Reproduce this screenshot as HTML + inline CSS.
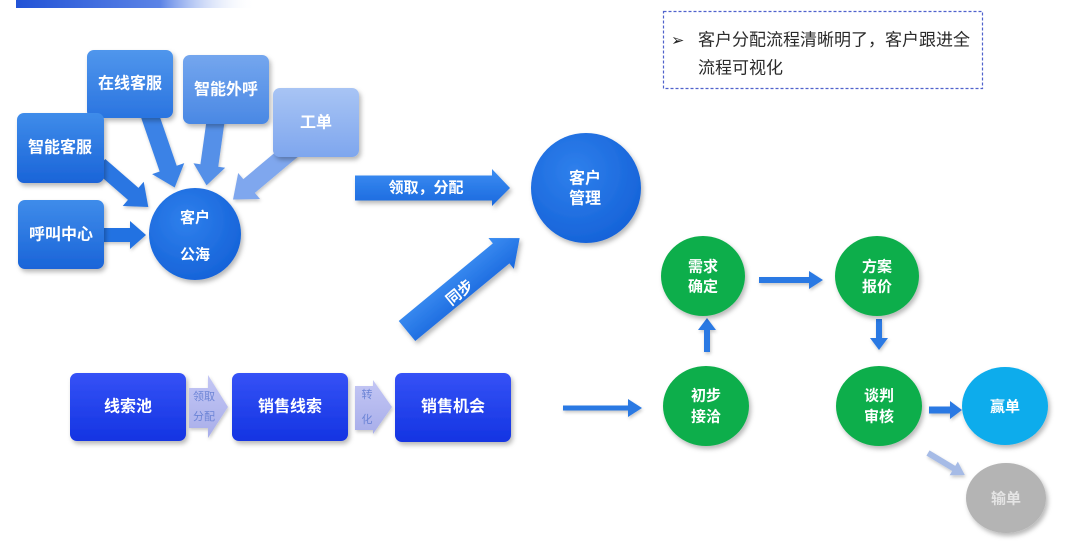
<!DOCTYPE html>
<html>
<head>
<meta charset="utf-8">
<style>
html,body{margin:0;padding:0;background:#fff;}
body{width:1080px;height:544px;overflow:hidden;position:relative;font-family:"Liberation Sans","Noto Sans CJK SC",sans-serif;}
svg{position:absolute;left:0;top:0;}
.t{font-family:"Liberation Sans","Noto Sans CJK SC",sans-serif;font-weight:bold;fill:#fff;text-anchor:middle;dominant-baseline:central;}
</style>
</head>
<body>
<svg width="1080" height="544" viewBox="0 0 1080 544" xmlns="http://www.w3.org/2000/svg">
<defs>
  <linearGradient id="bar" x1="0" y1="0" x2="1" y2="0">
    <stop offset="0" stop-color="#2253d6"/>
    <stop offset="0.6" stop-color="#5b83e6"/>
    <stop offset="1" stop-color="#ffffff" stop-opacity="0"/>
  </linearGradient>
  <linearGradient id="gDark" x1="0" y1="0" x2="0" y2="1">
    <stop offset="0" stop-color="#3f8cea"/>
    <stop offset="1" stop-color="#1a64d8"/>
  </linearGradient>
  <linearGradient id="gMid" x1="0" y1="0" x2="0" y2="1">
    <stop offset="0" stop-color="#5096ec"/>
    <stop offset="1" stop-color="#2a74e0"/>
  </linearGradient>
  <linearGradient id="gLight" x1="0" y1="0" x2="0" y2="1">
    <stop offset="0" stop-color="#74a6ee"/>
    <stop offset="1" stop-color="#4a88e4"/>
  </linearGradient>
  <linearGradient id="gPale" x1="0" y1="0" x2="0" y2="1">
    <stop offset="0" stop-color="#a8c4f4"/>
    <stop offset="1" stop-color="#7ea6ee"/>
  </linearGradient>
  <linearGradient id="gBox" x1="0" y1="0" x2="0" y2="1">
    <stop offset="0" stop-color="#3552f6"/>
    <stop offset="1" stop-color="#1434e2"/>
  </linearGradient>
  <linearGradient id="gArr" x1="0" y1="0" x2="0" y2="1">
    <stop offset="0" stop-color="#3c8ef2"/>
    <stop offset="1" stop-color="#1a68de"/>
  </linearGradient>
  <linearGradient id="gLav" x1="0" y1="0" x2="0" y2="1">
    <stop offset="0" stop-color="#c3c6f4"/>
    <stop offset="1" stop-color="#a8aeea"/>
  </linearGradient>
  <radialGradient id="gCirc" cx="0.4" cy="0.35" r="0.7">
    <stop offset="0" stop-color="#2f80ec"/>
    <stop offset="1" stop-color="#1562d8"/>
  </radialGradient>
  <filter id="sh" x="-20%" y="-20%" width="150%" height="150%">
    <feDropShadow dx="2" dy="3" stdDeviation="2.5" flood-color="#000" flood-opacity="0.28"/>
  </filter>
  <filter id="shs" x="-20%" y="-20%" width="150%" height="150%">
    <feDropShadow dx="1" dy="2" stdDeviation="1.5" flood-color="#000" flood-opacity="0.22"/>
  </filter>
</defs>

<!-- top bar -->
<rect x="16" y="0" width="240" height="8" fill="url(#bar)"/>

<!-- dashed note box -->
<rect x="663.5" y="11.5" width="319" height="77" fill="#fff" stroke="#4f62cc" stroke-width="1.2" stroke-dasharray="3,2"/>
<text x="671" y="40" font-size="16" fill="#222" dominant-baseline="central" font-family="'DejaVu Sans',sans-serif">➢</text>
<text x="698" y="40" font-size="17" fill="#2a2a2a" dominant-baseline="central" font-family="'Liberation Sans','Noto Sans CJK SC',sans-serif">客户分配流程清晰明了，客户跟进全</text>
<text x="698" y="68" font-size="17" fill="#2a2a2a" dominant-baseline="central" font-family="'Liberation Sans','Noto Sans CJK SC',sans-serif">流程可视化</text>

<!-- arrows into 客户公海 (drawn under boxes) -->
<g filter="url(#shs)">
  <g transform="translate(102,235)">
    <polygon points="0,-7 28,-7 28,-14 44,0 28,14 28,7 0,7" fill="#2272e2"/>
  </g>
  <g transform="translate(100,165) rotate(41)">
    <polygon points="0,-8 44,-8 44,-16 64,0 44,16 44,8 0,8" fill="#2a76e2"/>
  </g>
  <g transform="translate(148,110) rotate(71)">
    <polygon points="0,-9 62,-9 62,-17 82,0 62,17 62,9 0,9" fill="#3a82e6"/>
  </g>
  <g transform="translate(216,118) rotate(98)">
    <polygon points="0,-9 48,-9 48,-16 68,0 48,16 48,9 0,9" fill="#5590e8"/>
  </g>
  <g transform="translate(292,150) rotate(140)">
    <polygon points="0,-9 56,-9 56,-17 77,0 56,17 56,9 0,9" fill="#7fa7ee"/>
  </g>
</g>

<!-- top-left boxes -->
<g filter="url(#sh)">
  <rect x="87" y="50" width="86" height="68" rx="7" fill="url(#gMid)"/>
  <rect x="183" y="55" width="86" height="69" rx="7" fill="url(#gLight)"/>
  <rect x="273" y="88" width="86" height="69" rx="7" fill="url(#gPale)"/>
  <rect x="17" y="113" width="87" height="70" rx="7" fill="url(#gDark)"/>
  <rect x="18" y="200" width="86" height="69" rx="7" fill="url(#gDark)"/>
  <circle cx="195" cy="234" r="46" fill="url(#gCirc)"/>
</g>
<text class="t" x="130" y="84" font-size="16">在线客服</text>
<text class="t" x="226" y="90" font-size="16">智能外呼</text>
<text class="t" x="316" y="123" font-size="16">工单</text>
<text class="t" x="60" y="148" font-size="16">智能客服</text>
<text class="t" x="61" y="235" font-size="16">呼叫中心</text>
<text class="t" x="195" y="218" font-size="15">客户</text>
<text class="t" x="195" y="255" font-size="15">公海</text>

<!-- 领取，分配 arrow -->
<g filter="url(#sh)">
  <polygon points="355,175.5 492,175.5 492,169 510,188 492,206 492,200.5 355,200.5" fill="url(#gArr)"/>
</g>
<text class="t" x="426" y="188" font-size="15">领取，分配</text>

<!-- 同步 arrow -->
<g filter="url(#sh)">
  <g transform="translate(407,331) rotate(-39.5)">
    <polygon points="0,-13 122,-13 122,-20 146,0 122,20 122,13 0,13" fill="url(#gArr)"/>
  </g>
</g>
<text class="t" x="460" y="293" font-size="15" transform="rotate(-39.5 460 293)">同步</text>

<!-- 客户管理 -->
<g filter="url(#sh)">
  <circle cx="586" cy="188" r="55" fill="url(#gCirc)"/>
</g>
<text class="t" x="585" y="179" font-size="16">客户</text>
<text class="t" x="585" y="199" font-size="16">管理</text>

<!-- bottom row -->
<g filter="url(#sh)">
  <rect x="70" y="373" width="116" height="68" rx="7" fill="url(#gBox)"/>
  <rect x="232" y="373" width="116" height="68" rx="7" fill="url(#gBox)"/>
  <rect x="395" y="373" width="116" height="69" rx="7" fill="url(#gBox)"/>
</g>
<g filter="url(#shs)">
  <polygon points="189,388 208,388 208,375 228,407 208,438 208,428 189,428" fill="url(#gLav)"/>
  <polygon points="355,386 373,386 373,380 392,407 373,434 373,430 355,430" fill="url(#gLav)"/>
</g>
<text x="204" y="397" font-size="11" fill="#6c84d6" text-anchor="middle" dominant-baseline="central" font-family="'Liberation Sans','Noto Sans CJK SC',sans-serif">领取</text>
<text x="204" y="417" font-size="11" fill="#6c84d6" text-anchor="middle" dominant-baseline="central" font-family="'Liberation Sans','Noto Sans CJK SC',sans-serif">分配</text>
<text x="367" y="395" font-size="11" fill="#6c84d6" text-anchor="middle" dominant-baseline="central" font-family="'Liberation Sans','Noto Sans CJK SC',sans-serif">转</text>
<text x="367" y="420" font-size="11" fill="#6c84d6" text-anchor="middle" dominant-baseline="central" font-family="'Liberation Sans','Noto Sans CJK SC',sans-serif">化</text>
<text class="t" x="128" y="407" font-size="16">线索池</text>
<text class="t" x="290" y="407" font-size="16">销售线索</text>
<text class="t" x="453" y="407" font-size="16">销售机会</text>

<!-- right side arrows -->
<g filter="url(#shs)" fill="#2b79e3">
  <polygon points="563,405.5 628,405.5 628,399 642,408 628,417 628,410.5 563,410.5"/>
  <polygon points="759,277 809,277 809,271 823,280 809,289 809,283 759,283"/>
  <polygon points="876,319 882,319 882,338 888,338 879,350 870,338 876,338"/>
  <polygon points="704,352 710,352 710,330 716,330 707,318 698,330 704,330"/>
  <polygon points="929,406.5 950,406.5 950,401 962,410 950,419 950,413.5 929,413.5"/>
  <g transform="translate(928,453) rotate(31)">
    <polygon points="0,-3 30,-3 30,-8 43,0 30,8 30,3 0,3" fill="#a6bbe6"/>
  </g>
</g>

<!-- right side circles -->
<g filter="url(#sh)">
  <ellipse cx="703" cy="276" rx="42" ry="40" fill="#0fae4b"/>
  <ellipse cx="877" cy="276" rx="42" ry="40" fill="#0fae4b"/>
  <ellipse cx="706" cy="406" rx="43" ry="40" fill="#0fae4b"/>
  <ellipse cx="879" cy="406" rx="43" ry="40" fill="#0fae4b"/>
  <ellipse cx="1005" cy="406" rx="43" ry="39" fill="#0aacec"/>
  <ellipse cx="1006" cy="498" rx="40" ry="35" fill="#b4b4b4"/>
</g>
<text class="t" x="703" y="267" font-size="15">需求</text>
<text class="t" x="703" y="287" font-size="15">确定</text>
<text class="t" x="877" y="267" font-size="15">方案</text>
<text class="t" x="877" y="287" font-size="15">报价</text>
<text class="t" x="706" y="396" font-size="15">初步</text>
<text class="t" x="706" y="417" font-size="15">接洽</text>
<text class="t" x="879" y="396" font-size="15">谈判</text>
<text class="t" x="879" y="417" font-size="15">审核</text>
<text class="t" x="1005" y="407" font-size="15">赢单</text>
<text class="t" x="1006" y="499" font-size="15" style="fill:#e4e4e4">输单</text>
</svg>
</body>
</html>
